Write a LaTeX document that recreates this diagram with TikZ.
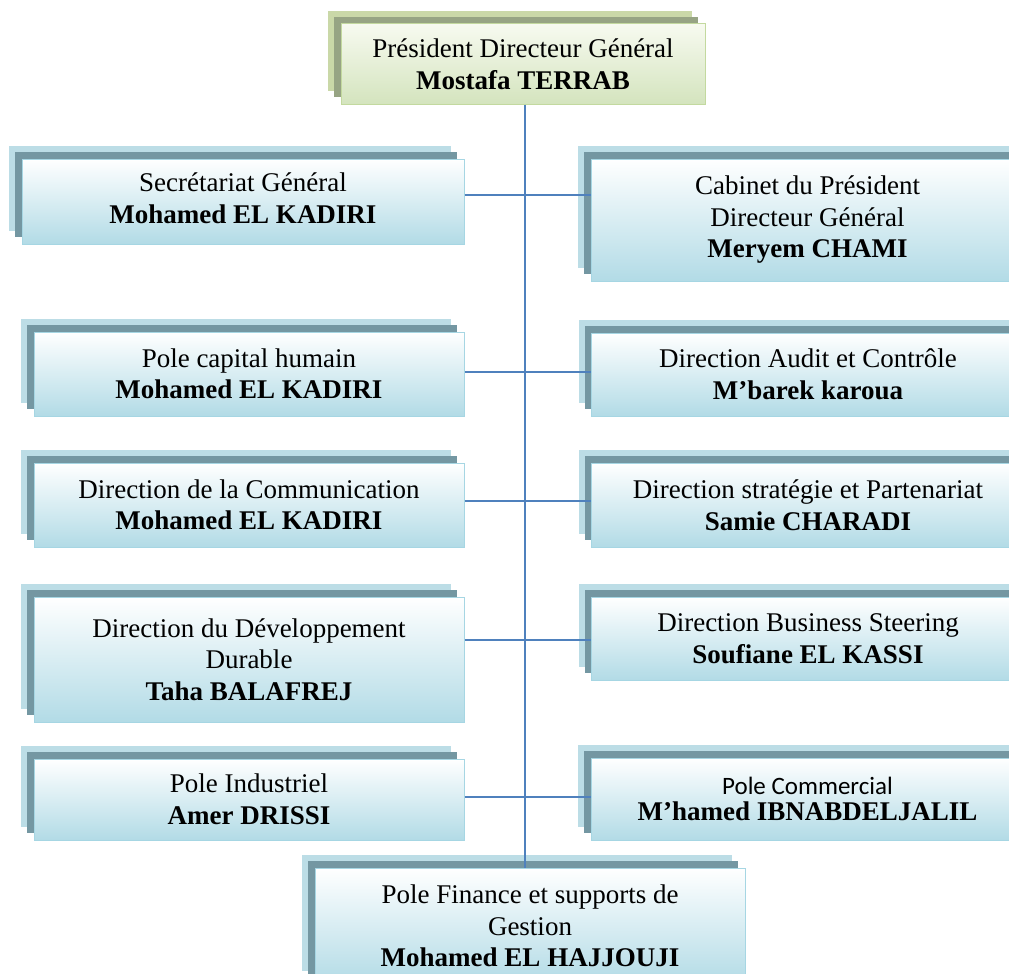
\documentclass[tikz,border=0pt]{standalone}
\usepackage{fontspec}
\setmainfont{Liberation Serif}
\newfontfamily\calibfont{Carlito}
\usetikzlibrary{shadows,calc}
\definecolor{bluelight}{HTML}{BCDDE6}
\definecolor{bluedark}{HTML}{7497A2}
\definecolor{bluebot}{HTML}{B2DBE6}
\definecolor{blueedge}{HTML}{A6D6E3}
\definecolor{greenlight}{HTML}{CAD8A8}
\definecolor{greendark}{HTML}{97A484}
\definecolor{greentop}{HTML}{F7FAF0}
\definecolor{greenbot}{HTML}{D4E4BE}
\definecolor{greenedge}{HTML}{C3D99F}
\definecolor{linkblue}{HTML}{4F81BD}
\tikzset{
  boxbase/.style={line width=1pt, align=center, inner sep=0pt,
    font=\fontsize{27}{31.5}\selectfont},
  orgbox/.style={boxbase, draw=blueedge, top color=white, bottom color=bluebot,
    general shadow={fill=bluelight, shadow xshift=-13pt, shadow yshift=13pt},
    general shadow={fill=bluedark, shadow xshift=-7pt, shadow yshift=7pt}},
  topbox/.style={boxbase, draw=greenedge, top color=greentop, bottom color=greenbot,
    general shadow={fill=greenlight, shadow xshift=-13pt, shadow yshift=13pt},
    general shadow={fill=greendark, shadow xshift=-7pt, shadow yshift=7pt}},
  leftbox/.style={orgbox, minimum width=430pt},
  rightbox/.style={orgbox, minimum width=433pt},
  link/.style={draw=linkblue, line width=1.4pt}
}
\begin{document}
\begin{tikzpicture}[x=1pt, y=-1pt]
\clip (0,0) rectangle (1009,974);
\fill[white] (0,0) rectangle (1009,974);
% top
\node[topbox, minimum width=364pt, minimum height=80pt] (pdg) at (523,64)
  {Président Directeur Général\\\textbf{Mostafa TERRAB}};
% row 1
\node[orgbox, minimum width=442pt, minimum height=85pt] (sg) at (243,201.5)
  {Secrétariat Général\\\textbf{Mohamed EL KADIRI}\rule[-7pt]{0pt}{7pt}};
\node[rightbox, minimum height=122pt] (cab) at (807.5,220)
  {Cabinet du Président\\Directeur Général\\\textbf{Meryem CHAMI}};
% row 2
\node[leftbox, minimum height=84pt] (pch) at (249,374)
  {Pole capital humain\\\textbf{Mohamed EL KADIRI}};
\node[rightbox, minimum height=83pt] (dac) at (808,374.5)
  {Direction Audit et Contrôle\\\textbf{M’barek karoua}};
% row 3
\node[leftbox, minimum height=84pt] (dcom) at (249,505)
  {Direction de la Communication\\\textbf{Mohamed EL KADIRI}};
\node[rightbox, minimum height=84pt] (dsp) at (808,505)
  {Direction stratégie et Partenariat\\\textbf{Samie CHARADI}};
% row 4
\node[leftbox, minimum height=125pt] (ddd) at (249,659.5)
  {Direction du Développement\\Durable\\\textbf{Taha BALAFREJ}};
\node[rightbox, minimum height=83pt] (dbs) at (808,638.5)
  {Direction Business Steering\\\textbf{Soufiane EL KASSI}};
% row 5
\node[leftbox, minimum height=81pt] (pind) at (249,799.5)
  {Pole Industriel\\\textbf{Amer DRISSI}};
\node[rightbox, minimum height=82pt] (pcom) at (807.5,799)
  {{\calibfont\fontsize{25}{28}\selectfont Pole Commercial}\\[-5pt]\textbf{M’hamed IBNABDELJALIL}};
% bottom
\node[orgbox, minimum width=430pt, minimum height=116pt] (fin) at (530,926)
  {Pole Finance et supports de\\Gestion\\\textbf{Mohamed EL HAJJOUJI}};
% connectors
\coordinate (trunk) at (525,0);
\coordinate (r1) at (525,195);
\coordinate (r2) at (525,372);
\coordinate (r3) at (525,501);
\coordinate (r4) at (525,640);
\coordinate (r5) at (525,797);
\draw[link] (pdg.south -| trunk) -- (fin.north -| trunk);
\draw[link] (sg.east |- r1) -- (cab.west |- r1);
\draw[link] (pch.east |- r2) -- (dac.west |- r2);
\draw[link] (dcom.east |- r3) -- (dsp.west |- r3);
\draw[link] (ddd.east |- r4) -- (dbs.west |- r4);
\draw[link] (pind.east |- r5) -- (pcom.west |- r5);
\end{tikzpicture}
\end{document}
